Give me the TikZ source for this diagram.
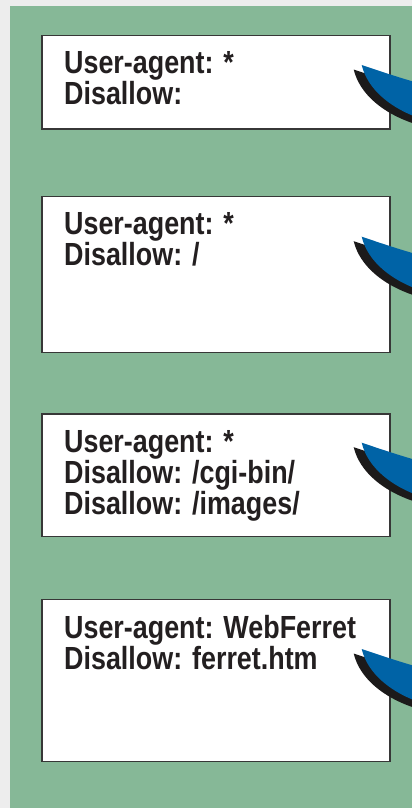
\documentclass[tikz,border=0pt]{standalone}
\usepackage{fontspec}
\setsansfont{Liberation Sans}[FakeStretch=0.84]
\usetikzlibrary{positioning}
\definecolor{frame}{RGB}{237,237,237}
\definecolor{leaf}{RGB}{134,184,151}
\definecolor{rim}{RGB}{55,55,55}
\definecolor{ink}{RGB}{35,31,32}
\definecolor{swBlue}{RGB}{0,99,166}
\definecolor{swShade}{RGB}{28,26,26}

\begin{document}
\begin{tikzpicture}[
  x=1pt, y=-1pt,
  rule/.style={draw=rim, line width=1.2pt, fill=white, minimum width=348pt, inner sep=0pt, anchor=north west},
  txt/.style={font=\sffamily\bfseries\fontsize{32}{31}\selectfont, text=ink, align=left, inner sep=0pt},
  swoosh/.pic={
    \fill[swShade, shift={(-8,4.5)}] (0,0) .. controls (15,5) and (35,12) .. (60,19)
       -- (60,54) .. controls (30,44) and (6,25) .. cycle;
    \fill[swBlue] (0,0) .. controls (15,5) and (35,12) .. (60,19)
       -- (60,54) .. controls (30,44) and (6,25) .. cycle;
  },
]

% ---- page ----
\clip (0,0) rectangle (412,808);
\fill[frame] (0,0) rectangle (412,808);
\fill[leaf] (10,6) rectangle (412,808);

% ---- the four rule sets ----
\node[rule, minimum height=93.6pt] (R1) at (41.3,34.7) {};
\node[txt, below right=16.5pt and 22.7pt of R1.north west] (T1) {User-agent: *\\Disallow:};

\node[rule, minimum height=156pt] (R2) at (41.3,196) {};
\node[txt, below right=16.5pt and 22.7pt of R2.north west] (T2) {User-agent: *\\Disallow: /};

\node[rule, minimum height=122.4pt] (R3) at (41.3,413.3) {};
\node[txt, below right=16.5pt and 22.7pt of R3.north west] (T3) {User-agent: *\\Disallow: /cgi-bin/\\Disallow: /images/};

\node[rule, minimum height=162pt] (R4) at (41.3,599) {};
\node[txt, below right=16.5pt and 22.7pt of R4.north west] (T4) {User-agent: WebFerret\\Disallow: ferret.htm};

% ---- swooshes on the right edge ----
\pic (S1) at (361.7,65) {swoosh};
\pic (S2) at (361.7,236.7) {swoosh};
\pic (S3) at (361.7,442.7) {swoosh};
\pic (S4) at (361.7,649) {swoosh};

\end{tikzpicture}
\end{document}
